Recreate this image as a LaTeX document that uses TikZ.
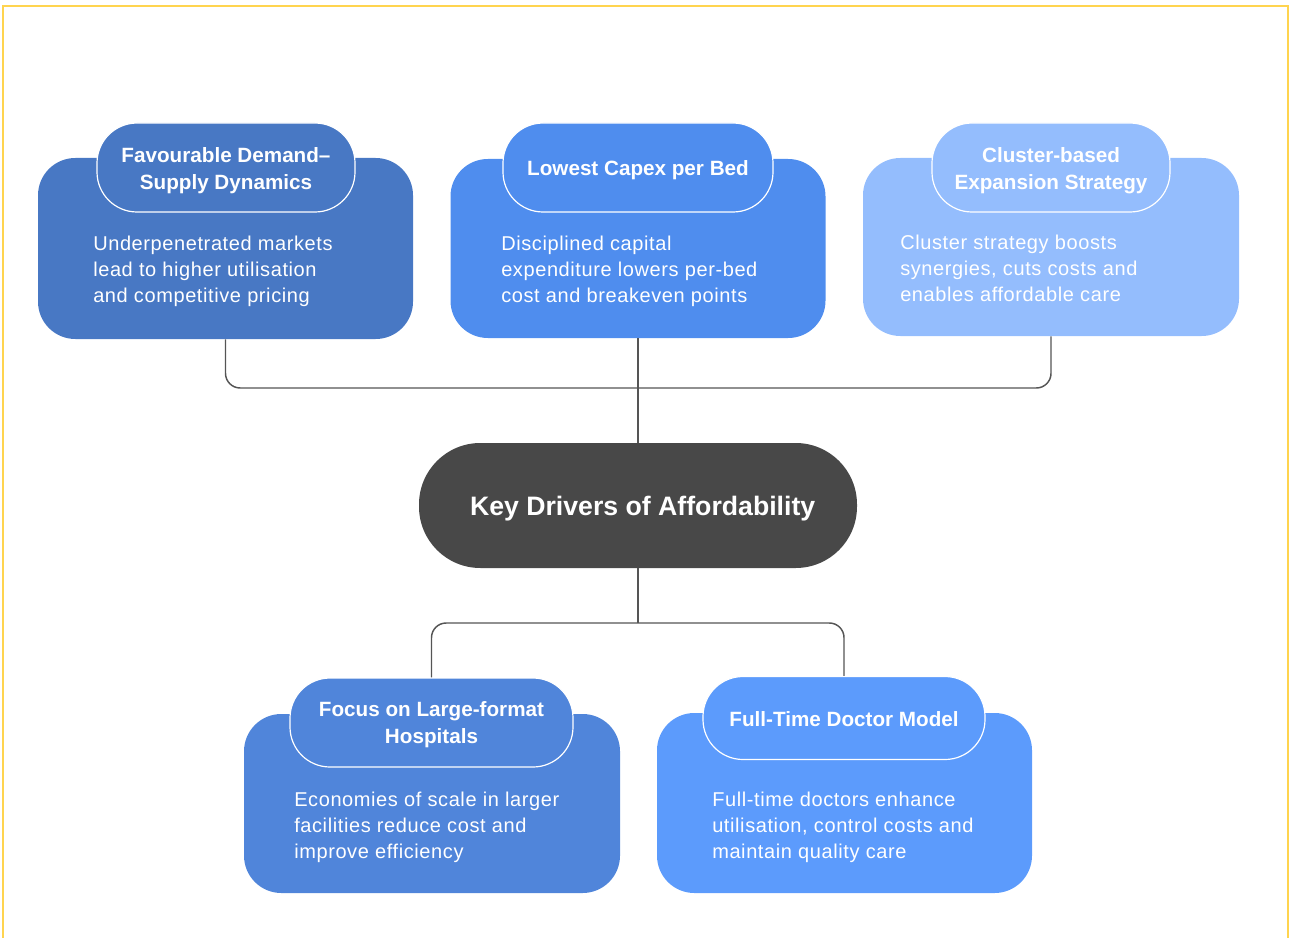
\documentclass[tikz,border=0pt]{standalone}
\usepackage{fontspec}
\setmainfont{Liberation Sans}
\newfontfamily\bodyfont[LetterSpace=3]{Liberation Sans}
\definecolor{cardA}{HTML}{4878C4}
\definecolor{cardB}{HTML}{4F8DEE}
\definecolor{cardC}{HTML}{94BDFD}
\definecolor{cardD}{HTML}{5085DA}
\definecolor{cardE}{HTML}{5C9BFC}
\definecolor{hubgray}{HTML}{484848}
\definecolor{linegray}{HTML}{555555}
\definecolor{frame}{HTML}{FFD44F}
\begin{document}
\begin{tikzpicture}[x=0.75pt,y=-0.75pt,
  card/.style={rounded corners=28pt,inner sep=0pt},
  tab/.style={draw=white,line width=0.9pt,rounded corners=30pt,inner sep=0pt},
  tabtext/.style={inner sep=0pt,align=center,text=white,font=\fontsize{15.5}{20}\selectfont\bfseries},
  body/.style={anchor=north west,inner sep=0pt,align=left,text=white,font=\bodyfont\fontsize{15}{19.5}\selectfont},
  conn/.style={draw=linegray,line width=1.1pt,rounded corners=11pt}]
\useasboundingbox (0,0) rectangle (1290,938);
\draw[frame,line width=1.4pt] (3,945) -- (3,6) -- (1288,6) -- (1288,945);
% cards
\node[card,fill=cardA,minimum width=281.25pt,minimum height=135.75pt] (c1) at (225.5,248.5) {};
\node[card,fill=cardB,minimum width=281.25pt,minimum height=134.25pt] (c2) at (638,248.5) {};
\node[card,fill=cardC,minimum width=282pt,minimum height=133.5pt] (c3) at (1051,247) {};
\node[card,fill=cardD,minimum width=282pt,minimum height=134.25pt] (c4) at (432,803.5) {};
\node[card,fill=cardE,minimum width=281.25pt,minimum height=135pt] (c5) at (844.5,803) {};
% tabs
\node[tab,fill=cardA,minimum width=193.5pt,minimum height=66.75pt] (t1) at (226,167.5) {};
\node[tab,fill=cardB,minimum width=202.5pt,minimum height=66.75pt] (t2) at (638,167.5) {};
\node[tab,fill=cardC,minimum width=178.5pt,minimum height=66.75pt] (t3) at (1051,167.5) {};
\node[tab,fill=cardD,minimum width=212.25pt,minimum height=66.75pt] (t4) at (431.5,722.5) {};
\node[tab,fill=cardE,minimum width=211.5pt,minimum height=62.25pt] (t5) at (844,718) {};
\node[tabtext] (h1) at ([yshift=-2.25pt]t1) {Favourable Demand--\\Supply Dynamics};
\node[tabtext] (h2) at ([yshift=-2.25pt]t2) {Lowest Capex per Bed};
\node[tabtext] (h3) at ([yshift=-2.25pt]t3) {Cluster-based\\Expansion Strategy};
\node[tabtext] (h4) at ([yshift=-1.5pt]t4) {Focus on Large-format\\Hospitals};
\node[tabtext] (h5) at ([yshift=-1pt]t5) {Full-Time Doctor Model};
% texts
\node[body] (b1) at (93,236) {Underpenetrated markets\\lead to higher utilisation\\and competitive pricing};
\node[body] (b2) at (501,236) {Disciplined capital\\expenditure lowers per-bed\\cost and breakeven points};
\node[body] (b3) at (900,235) {Cluster strategy boosts\\synergies, cuts costs and\\enables affordable care};
\node[body] (b4) at (294,792) {Economies of scale in larger\\facilities reduce cost and\\improve efficiency};
\node[body] (b5) at (712,792) {Full-time doctors enhance\\utilisation, control costs and\\maintain quality care};
% hub
\node[fill=hubgray,rounded corners=46pt,minimum width=328.5pt,minimum height=93.75pt] (hub) at (638,505.5) {};
\node[inner sep=0pt,text=white,font=\fontsize{20}{24}\selectfont\bfseries] (hubtext) at ([xshift=3.5pt,yshift=-2.5pt]hub) {Key Drivers of Affordability};
\coordinate (jt) at (638,388);
\coordinate (jb) at (638,623);
\draw[conn] (c1.south) |- (jt) -| (c3.south);
\draw[conn] (c2.south) -- (hub.north);
\draw[conn] (hub.south) -- (jb);
\draw[conn] (t4.north) |- (jb) -| (t5.north);
\end{tikzpicture}
\end{document}
